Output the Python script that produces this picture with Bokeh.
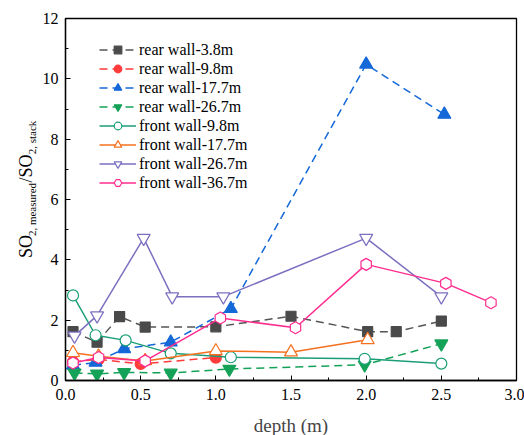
import math
from bokeh.plotting import figure
from bokeh.layouts import row
from bokeh.models import (Range1d, SingleIntervalTicker, PrintfTickFormatter, Legend,
                          LegendItem)
from bokeh.core.properties import value
from bokeh.embed import file_html
from bokeh.resources import INLINE

# ---- data ----
rear38_x = [0.05, 0.21, 0.36, 0.53, 1.0, 1.5, 2.01, 2.2, 2.5]
rear38_y = [1.62, 1.27, 2.12, 1.77, 1.78, 2.13, 1.62, 1.62, 1.97]

rear98_x = [0.05, 0.22, 0.5, 1.0]
rear98_y = [0.62, 0.70, 0.55, 0.76]

rear177_x = [0.05, 0.2, 0.39, 0.7, 1.1, 2.0, 2.52]
rear177_y = [0.50, 0.60, 1.05, 1.27, 2.38, 10.48, 8.82]

rear267_x = [0.06, 0.21, 0.39, 0.7, 1.09, 1.99, 2.5]
rear267_y = [0.25, 0.22, 0.27, 0.25, 0.38, 0.52, 1.22]

front98_x = [0.05, 0.2, 0.4, 0.7, 1.1, 1.99, 2.5]
front98_y = [2.82, 1.50, 1.33, 0.90, 0.77, 0.72, 0.56]

front177_x = [0.05, 0.22, 0.53, 1.0, 1.5, 2.01]
front177_y = [0.92, 0.80, 0.65, 0.98, 0.94, 1.35]

front267_x = [0.06, 0.21, 0.52, 0.71, 1.05, 2.0, 2.5]
front267_y = [1.48, 2.15, 4.72, 2.78, 2.78, 4.72, 2.78]

front367_x = [0.05, 0.22, 0.53, 1.03, 1.53, 2.0, 2.53, 2.83]
front367_y = [0.58, 0.76, 0.65, 2.07, 1.75, 3.85, 3.22, 2.58]

labels = ["rear wall-3.8m", "rear wall-9.8m", "rear wall-17.7m", "rear wall-26.7m",
          "front wall-9.8m", "front wall-17.7m", "front wall-26.7m", "front wall-36.7m"]

ylabel_parts = ["SO", "2, measured", "/SO", "2, stack"]

FONT = "Liberation Serif"
LEFT_W = 38
H = 435
TOP, BOTTOM = 18, 55

p = figure(width=524 - LEFT_W, height=H, output_backend="svg", toolbar_location=None,
           x_range=Range1d(0, 3), y_range=Range1d(0, 12),
           min_border_left=65 - LEFT_W, min_border_right=8, min_border_top=TOP,
           min_border_bottom=BOTTOM)
p.frame_width = 451
p.frame_height = H - TOP - BOTTOM
p.grid.visible = False
p.outline_line_color = "black"
p.outline_line_width = 1.3
p.background_fill_color = "white"
p.border_fill_color = "white"

p.xaxis.ticker = SingleIntervalTicker(interval=0.5, num_minor_ticks=2)
p.yaxis.ticker = SingleIntervalTicker(interval=2, num_minor_ticks=2)
p.xaxis.formatter = PrintfTickFormatter(format="%.1f")
for ax in (p.xaxis[0], p.yaxis[0]):
    ax.axis_line_color = "black"
    ax.axis_line_width = 1.3
    ax.major_tick_in = 5
    ax.major_tick_out = 0
    ax.minor_tick_in = 3
    ax.minor_tick_out = 0
    ax.major_tick_line_color = "black"
    ax.minor_tick_line_color = "black"
    ax.major_label_text_font = FONT
    ax.major_label_text_font_size = "16px"
    ax.major_label_text_color = "black"
p.xaxis.major_label_standoff = 8
p.yaxis.major_label_standoff = 7
p.xaxis.axis_label = "depth (m)"
p.xaxis.axis_label_text_font = FONT
p.xaxis.axis_label_text_font_style = "normal"
p.xaxis.axis_label_text_font_size = "19px"
p.xaxis.axis_label_standoff = 12

series = [
    (rear38_x, rear38_y, "square", "#4a4a4a", "#4a4a4a", "#555555", True, 10),
    (rear98_x, rear98_y, "circle", "#ff3b3b", "#ff3b3b", "#ff3b3b", True, 11),
    (rear177_x, rear177_y, "triangle", "#1468d8", "#1468d8", "#1468d8", True, 13),
    (rear267_x, rear267_y, "inverted_triangle", "#14a258", "#14a258", "#14a258", True, 13),
    (front98_x, front98_y, "circle", "white", "#1b9e77", "#1b9e77", False, 11),
    (front177_x, front177_y, "triangle", "white", "#f5701f", "#f5701f", False, 13),
    (front267_x, front267_y, "inverted_triangle", "white", "#7b70c0", "#7b70c0", False, 13),
    (front367_x, front367_y, "hex", "white", "#ff2d8f", "#ff2d8f", False, 12),
]

items = []
for (xs, ys, marker, fill, mline, lcol, dashed, size), lab in zip(series, labels):
    ln = p.line(xs, ys, line_color=lcol, line_width=1.5,
                line_dash="8 5" if dashed else "solid")
    kw = {}
    if marker == "hex":
        kw["angle"] = math.pi / 6
    sc = p.scatter(xs, ys, marker=marker, size=size, fill_color=fill,
                   line_color=mline, line_width=1.2, **kw)
    items.append(LegendItem(label=lab, renderers=[ln, sc]))

legend = Legend(items=items, location=(34, 188), margin=0, padding=0,
                spacing=0, glyph_width=37, glyph_height=19, label_height=19,
                label_standoff=3, label_text_font=FONT, label_text_font_size="16px",
                label_text_color="black", border_line_alpha=0, background_fill_alpha=0)
p.add_layout(legend, "center")

# ---- y-axis label (with subscripts) drawn in a narrow companion figure ----
# In a row, the frames are aligned with the main plot's frame, so map the
# companion's y range to canvas pixels (counted from the bottom of the page).
lp = figure(width=LEFT_W, height=H, output_backend="svg", toolbar_location=None,
            x_range=Range1d(0, LEFT_W), y_range=Range1d(BOTTOM, H - TOP),
            x_axis_location=None, y_axis_location=None,
            min_border=0, min_border_left=0, min_border_right=0,
            min_border_top=TOP, min_border_bottom=BOTTOM)
lp.frame_height = H - TOP - BOTTOM
lp.grid.visible = False
lp.outline_line_color = None
lp.background_fill_color = "white"
lp.border_fill_color = "white"

big, small = "18px", "11px"
lab_pos = [(25, 189, big), (31, 226, small), (25, 267, big), (31, 298, small)]
for txt, (lx, ly, fs) in zip(ylabel_parts, lab_pos):
    lp.text(x=[lx], y=[ly], text=[txt], angle=math.pi / 2, text_font=value(FONT),
            text_font_size=value(fs), text_align="center", text_baseline="alphabetic",
            text_color="black")

layout = row(lp, p)
open("out.html", "w").write(file_html(layout, INLINE))
